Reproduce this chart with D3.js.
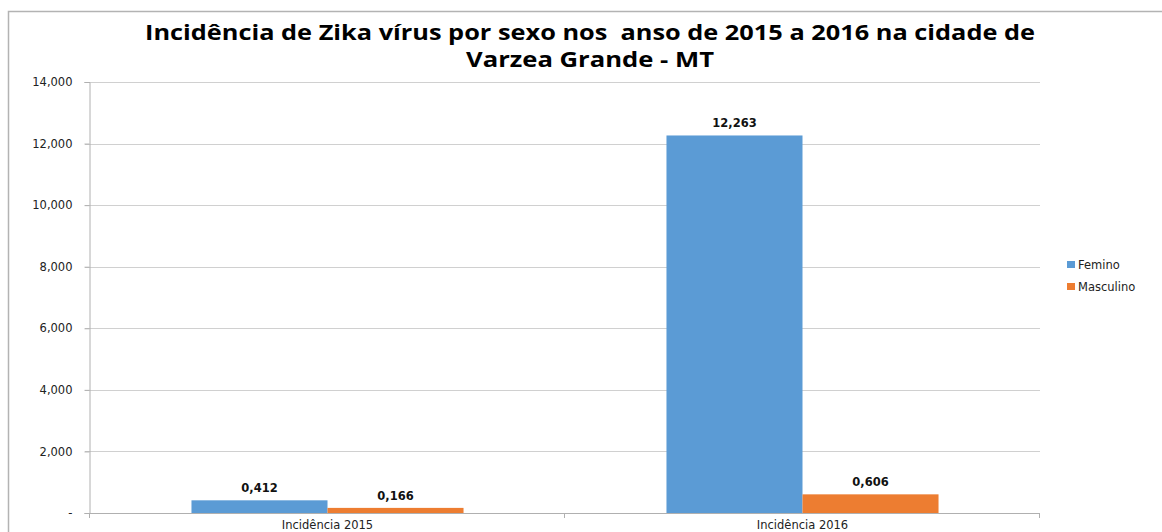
<!DOCTYPE html>
<html>
<head>
<meta charset="utf-8">
<script src="https://cdn.jsdelivr.net/npm/d3@7"></script>
<style>
  body { margin: 0; background: #fff; }
  svg { display: block; }
</style>
</head>
<body>
<div id="chart"></div>
<script>
var categories = ["Incidência 2015", "Incidência 2016"];
var series = ["Femino", "Masculino"];
var femino = [412, 12263];
var masculino = [166, 606];
var feminoLabels = ["0,412", "12,263"];
var masculinoLabels = ["0,166", "0,606"];
var yTicks = [0, 2000, 4000, 6000, 8000, 10000, 12000, 14000];
var yTickLabels = ["-", "2,000", "4,000", "6,000", "8,000", "10,000", "12,000", "14,000"];
var colors = ["#5b9bd5", "#ed7d31"];

var w = 1162, h = 532;
// plot box (note: "top" is reserved on window, so use other names)
var plotLeft = 90, plotRight = 1040, plotTop = 82, plotBottom = 513;

var svg = d3.select("#chart").append("svg")
  .attr("width", w).attr("height", h);

// outer chart frame
svg.append("rect")
  .attr("x", 8.5).attr("y", 11.5)
  .attr("width", w + 10).attr("height", h + 10)
  .attr("fill", "none").attr("stroke", "#b3b3b3").attr("stroke-width", 1.5);

var y = d3.scaleLinear().domain([0, 14000]).range([plotBottom, plotTop]);
var x0 = d3.scaleBand().domain(categories).range([plotLeft, plotRight]).padding(0);
var x1 = d3.scaleBand().domain(series).range([0, x0.bandwidth()])
  .paddingInner(0).paddingOuter(0.746);

// gridlines
svg.append("g").selectAll("line")
  .data(yTicks.filter(function(d) { return d > 0; }))
  .enter().append("line")
  .attr("x1", plotLeft - 5).attr("x2", plotRight)
  .attr("y1", function(d) { return Math.round(y(d)) + 0.5; })
  .attr("y2", function(d) { return Math.round(y(d)) + 0.5; })
  .attr("stroke", "#d0d0d0").attr("stroke-width", 1);

// y axis
var yAxis = d3.axisLeft(y).tickValues(yTicks).tickSize(5).tickPadding(12)
  .tickFormat(function(d, i) { return yTickLabels[i]; });
var gy = svg.append("g").attr("transform", "translate(" + (plotLeft - 0.5) + ",0)").call(yAxis);
gy.select(".domain").attr("stroke", "#b0b0b0");
gy.selectAll(".tick line").attr("stroke", "#b0b0b0");
gy.selectAll("text").attr("fill", "#222").style("font-family", "DejaVu Sans, Verdana, sans-serif").style("font-size", "11.5px");

// x axis line with ticks at category boundaries
svg.append("line")
  .attr("x1", plotLeft).attr("x2", plotRight)
  .attr("y1", plotBottom + 0.5).attr("y2", plotBottom + 0.5)
  .attr("stroke", "#b0b0b0");
svg.append("g").selectAll("line")
  .data([plotLeft, x0(categories[1]), plotRight])
  .enter().append("line")
  .attr("x1", function(d) { return d - 0.5; }).attr("x2", function(d) { return d - 0.5; })
  .attr("y1", plotBottom).attr("y2", plotBottom + 5)
  .attr("stroke", "#b0b0b0");

svg.append("g").selectAll("text")
  .data(categories)
  .enter().append("text")
  .attr("x", function(d) { return x0(d) + x0.bandwidth() / 2; })
  .attr("y", plotBottom + 16)
  .attr("text-anchor", "middle")
  .style("font-family", "DejaVu Sans, Verdana, sans-serif").style("font-size", "11.5px")
  .attr("fill", "#222")
  .text(function(d) { return d; });

// bars
var rows = categories.map(function(c, i) {
  return [
    { cat: c, s: series[0], v: femino[i], label: feminoLabels[i], color: colors[0] },
    { cat: c, s: series[1], v: masculino[i], label: masculinoLabels[i], color: colors[1] }
  ];
});
var groups = svg.append("g").selectAll("g")
  .data(rows)
  .enter().append("g")
  .attr("transform", function(d) { return "translate(" + x0(d[0].cat) + ",0)"; });

groups.selectAll("rect")
  .data(function(d) { return d; })
  .enter().append("rect")
  .attr("x", function(d) { return x1(d.s); })
  .attr("width", x1.bandwidth())
  .attr("y", function(d) { return y(d.v); })
  .attr("height", function(d) { return plotBottom - y(d.v); })
  .attr("fill", function(d) { return d.color; });

groups.selectAll("text")
  .data(function(d) { return d; })
  .enter().append("text")
  .attr("x", function(d) { return x1(d.s) + x1.bandwidth() / 2; })
  .attr("y", function(d) { return y(d.v) - 8; })
  .attr("text-anchor", "middle")
  .style("font-family", "DejaVu Sans, Verdana, sans-serif").style("font-size", "11.5px").style("font-weight", "bold")
  .attr("fill", "#111")
  .text(function(d) { return d.label; });

// title
var title = ["Incidência de Zika vírus por sexo nos  anso de 2015 a 2016 na cidade de", "Varzea Grande - MT"];
var titleLen = [890, 248];
svg.append("g").selectAll("text")
  .data(title)
  .enter().append("text")
  .attr("x", 590)
  .attr("y", function(d, i) { return 40 + i * 27; })
  .attr("text-anchor", "middle")
  .attr("textLength", function(d, i) { return titleLen[i]; })
  .attr("lengthAdjust", "spacingAndGlyphs")
  .style("white-space", "pre")
  .style("font-family", "'Liberation Sans Narrow', 'Open Sans', sans-serif")
  .style("font-size", "21px").style("font-weight", "bold")
  .attr("fill", "#000")
  .text(function(d) { return d; });

// legend
var legend = svg.append("g").selectAll("g")
  .data(series)
  .enter().append("g")
  .attr("transform", function(d, i) { return "translate(1067," + (261 + i * 22) + ")"; });
legend.append("rect").attr("width", 8).attr("height", 7)
  .attr("fill", function(d, i) { return colors[i]; });
legend.append("text").attr("x", 11).attr("y", 8)
  .style("font-family", "DejaVu Sans, Verdana, sans-serif").style("font-size", "11.5px")
  .attr("fill", "#222")
  .text(function(d) { return d; });
</script>
</body>
</html>
